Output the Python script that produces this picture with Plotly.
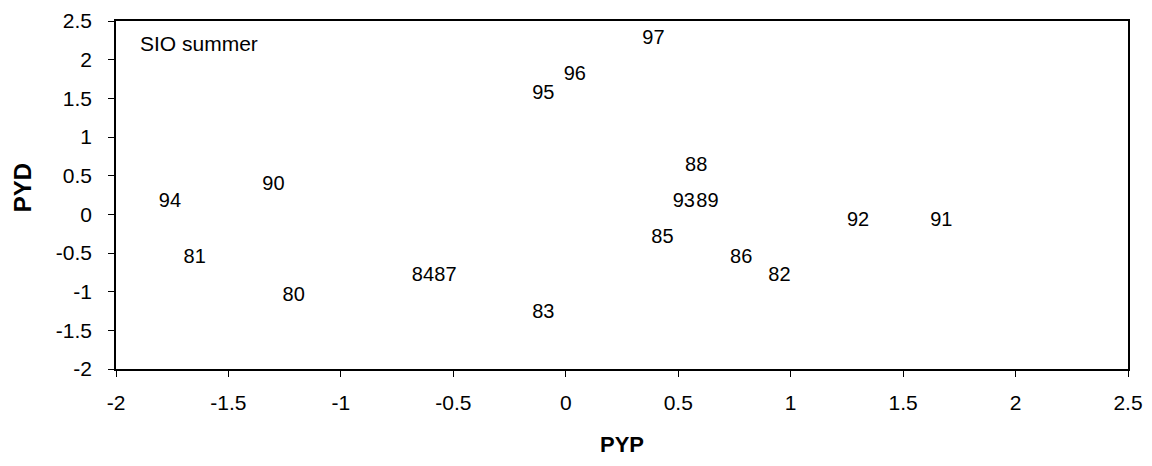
import plotly.graph_objects as go

# Data (year labels placed at PYP, PYD)
years = ["94", "90", "81", "80", "84", "87", "97", "96", "95", "88",
         "93", "89", "85", "86", "82", "83", "92", "91"]
pyp = [-1.76, -1.30, -1.65, -1.21, -0.635, -0.535, 0.39, 0.04, -0.10, 0.58,
       0.525, 0.63, 0.43, 0.78, 0.95, -0.10, 1.30, 1.67]
pyd = [0.16, 0.38, -0.56, -1.05, -0.80, -0.80, 2.27, 1.80, 1.55, 0.62,
       0.16, 0.16, -0.31, -0.56, -0.80, -1.28, -0.08, -0.08]

x_ticks = [-2, -1.5, -1, -0.5, 0, 0.5, 1, 1.5, 2, 2.5]
y_ticks = [-2, -1.5, -1, -0.5, 0, 0.5, 1, 1.5, 2, 2.5]

FONT = "Arial, Liberation Sans, Helvetica, sans-serif"

fig = go.Figure()
fig.add_trace(go.Scatter(
    x=pyp, y=pyd, text=years, mode="text",
    textposition="middle center",
    textfont=dict(family=FONT, size=20, color="black"),
    showlegend=False, hoverinfo="skip",
))

fig.add_annotation(
    text="SIO summer", xref="x domain", yref="y domain",
    x=0.022, y=0.936, xanchor="left", yanchor="middle",
    showarrow=False, font=dict(family=FONT, size=21, color="black"),
)

# y-axis title placed as in the reference (slightly above the plot centre)
fig.add_annotation(
    text="<b>PYD</b>", xref="paper", yref="paper",
    x=-0.093, y=0.522, xanchor="center", yanchor="middle",
    textangle=-90, showarrow=False,
    font=dict(family=FONT, size=24, color="black"),
)

fig.update_layout(
    width=1144, height=458,
    margin=dict(l=108, r=24, t=13, b=97, autoexpand=False),
    paper_bgcolor="white", plot_bgcolor="white",
    font=dict(family=FONT, color="black"),
)

fig.update_xaxes(
    range=[-2, 2.5], tickvals=x_ticks, ticktext=[f"{v:g}" for v in x_ticks],
    showgrid=False, zeroline=False, automargin=False,
    showline=True, linecolor="black", linewidth=1.5, mirror=True,
    ticks="outside", ticklen=6, tickcolor="black", tickwidth=1.2,
    tickfont=dict(family=FONT, size=21, color="black"),
    ticklabelstandoff=8,
    title=dict(text="<b>PYP</b>", font=dict(family=FONT, size=22, color="black"), standoff=24),
)
fig.update_yaxes(
    range=[-2, 2.5], tickvals=y_ticks, ticktext=[f"{v:g}" for v in y_ticks],
    showgrid=False, zeroline=False, automargin=False,
    showline=True, linecolor="black", linewidth=1.5, mirror=True,
    ticks="outside", ticklen=6, tickcolor="black", tickwidth=1.2,
    tickfont=dict(family=FONT, size=21, color="black"),
    ticklabelstandoff=12,
)

fig.write_html("out.html")
